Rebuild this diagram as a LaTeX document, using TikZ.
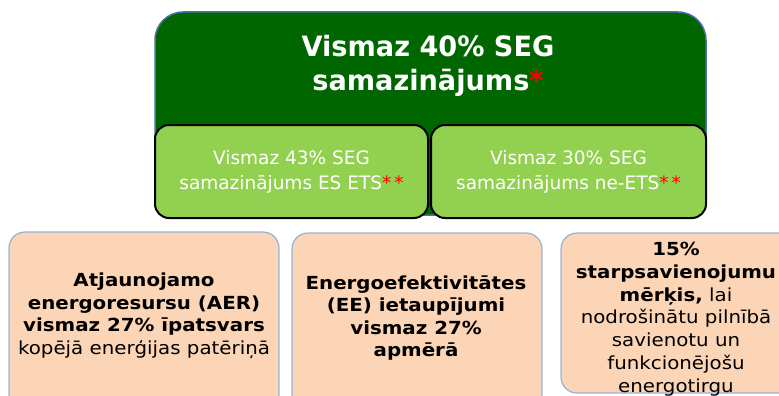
\documentclass[tikz,border=0pt]{standalone}
\usepackage{fontspec}
\setmainfont{DejaVu Sans}
\newfontfamily\titlefont[FakeStretch=0.97]{DejaVu Sans}
\newfontfamily\goalfont[FakeStretch=1.1]{DejaVu Sans}
\usetikzlibrary{positioning}

\definecolor{segdark}{HTML}{006600}
\definecolor{segline}{HTML}{4F6FA8}
\definecolor{etsfill}{HTML}{92D050}
\definecolor{goalfill}{HTML}{FBD5B5}
\definecolor{goalline}{HTML}{95B3D7}
\definecolor{starred}{HTML}{FF0000}

\tikzset{
  topbox/.style={draw=segline,line width=1.5pt,fill=segdark,rounded corners=28pt,inner sep=0pt},
  subbox/.style={draw=black,line width=2pt,fill=etsfill,rounded corners=14pt,inner sep=0pt,
                 text=white,align=center,font=\fontsize{18.5}{25}\selectfont},
  goalbox/.style={draw=goalline,line width=1.2pt,fill=goalfill,rounded corners=16pt,inner sep=0pt},
  goaltext/.style={align=center,font=\goalfont\fontsize{18}{22.5}\selectfont,inner sep=0pt}
}
\newcommand{\redstar}[1]{\textcolor{starred}{#1}}

\begin{document}
\begin{tikzpicture}[x=1pt,y=-1pt]
    \useasboundingbox (0,0) rectangle (779,396);
    \clip (0,0) rectangle (779,396);

    \node[topbox,minimum width=551pt,minimum height=203pt] (seg) at (430.5,113.5) {};
    \node[text=white,align=center,font=\titlefont\bfseries\fontsize{28}{34}\selectfont] (segtitle) at (428,66)
        {Vismaz 40\% SEG\\samazinājums\redstar{*}};

    \node[subbox,minimum width=273pt,minimum height=93pt] (ets) at (291.5,171.5)
        {Vismaz 43\% SEG\\samazinājums ES ETS\redstar{*\,*}};
    \node[subbox,minimum width=275pt,minimum height=93pt] (nonets) at (568.5,171.5)
        {Vismaz 30\% SEG\\samazinājums ne-ETS\redstar{*\,*}};

    \node[goalbox,minimum width=270pt,minimum height=190pt] (aer) at (144,327) {};
    \node[goalbox,minimum width=250pt,minimum height=190pt] (ee) at (417,328) {};
    \node[goalbox,minimum width=260pt,minimum height=160pt] (link) at (691,313) {};

    \node[goaltext] (aertext) at (144,316)
        {\textbf{Atjaunojamo}\\\textbf{energoresursu (AER)}\\\textbf{vismaz 27\% īpatsvars}\\kopējā enerģijas patēriņā};
    \node[goaltext] (eetext) at (416,318)
        {\textbf{Energoefektivitātes}\\\textbf{(EE) ietaupījumi}\\\textbf{vismaz 27\%}\\\textbf{apmērā}};
    \node[goaltext,font=\goalfont\fontsize{18}{22.8}\selectfont] (linktext) at (676,319)
        {\textbf{15\%}\\\textbf{starpsavienojumu}\\\textbf{mērķis,} lai\\nodrošinātu pilnībā\\savienotu un\\funkcionējošu\\energotirgu};
\end{tikzpicture}
\end{document}
